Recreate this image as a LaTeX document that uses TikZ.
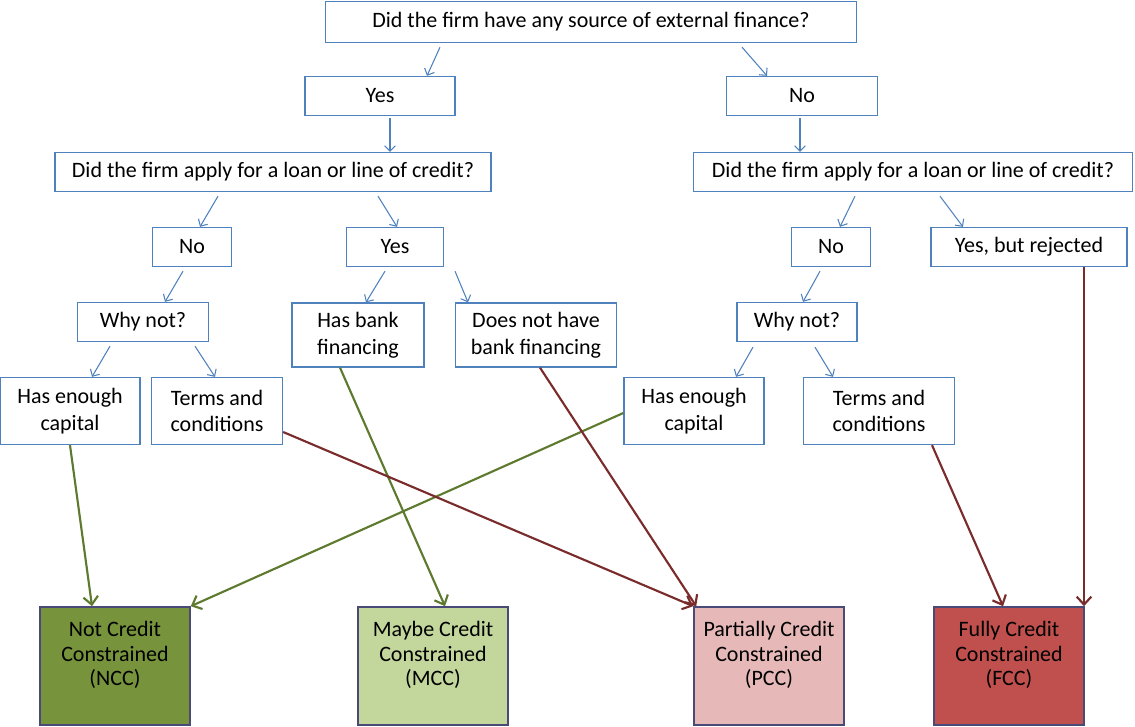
\documentclass[tikz,border=0pt]{standalone}
\usepackage{fontspec}
\setmainfont{Carlito}
\usepackage{tikz}
\usetikzlibrary{positioning, calc, arrows.meta}
\definecolor{qblue}{HTML}{4F81BD}
\definecolor{agreen}{HTML}{5E7A2E}
\definecolor{ared}{HTML}{7A2B2B}
\definecolor{rframe}{HTML}{4A4A78}
\tikzset{qbox/.style = {draw=qblue,line width=1pt,fill=white,align=center,inner sep=0pt,
                        font=\fontsize{16.5}{20}\selectfont},
         rbox/.style = {draw=rframe,line width=1.2pt,align=center,inner sep=0pt,
                        minimum width=150*0.75pt,minimum height=118*0.75pt,
                        font=\fontsize{16.5}{18.5}\selectfont},
         flow/.style = {draw=qblue,line width=0.8pt,-{Straight Barb[length=4pt,width=8pt]}},
         thick flow/.style = {line width=1.6pt,-{Straight Barb[length=6pt,width=11pt]}}}

\begin{document}
\begin{tikzpicture}[x=0.75pt,y=-0.75pt]
                    \useasboundingbox (0,0) rectangle (1135,727);

                    \node [qbox,minimum width=531*0.75pt,minimum height=41*0.75pt] (Q) at (591,22) {Did the firm have any source of external finance?};
                    \node [qbox,minimum width=150*0.75pt,minimum height=39*0.75pt] (Y) at (380,96) {Yes};
                    \node [qbox,minimum width=151*0.75pt,minimum height=39*0.75pt] (N) at (802,96) {No};
                    \node [qbox,minimum width=436*0.75pt,minimum height=39*0.75pt] (YQ) at (273,172) {Did the firm apply for a loan or line of credit?};
                    \node [qbox,minimum width=439*0.75pt,minimum height=39*0.75pt] (NQ) at (913,172) {Did the firm apply for a loan or line of credit?};
                    \node [qbox,minimum width=79*0.75pt,minimum height=39*0.75pt] (YN) at (192,247) {No};
                    \node [qbox,minimum width=97*0.75pt,minimum height=39*0.75pt] (YY) at (395,247) {Yes};
                    \node [qbox,minimum width=79*0.75pt,minimum height=39*0.75pt] (NN) at (831,247) {No};
                    \node [qbox,minimum width=196*0.75pt,minimum height=39*0.75pt] (NY) at (1029,247) {Yes, but rejected};
                    \node [qbox,minimum width=131*0.75pt,minimum height=39*0.75pt] (YNW) at (143,322) {Why not?};
                    \node [qbox,minimum width=132*0.75pt,minimum height=64*0.75pt] (YYB) at (358,335) {Has bank\\financing};
                    \node [qbox,minimum width=161*0.75pt,minimum height=64*0.75pt] (YYN) at (536,335) {Does not have\\bank financing};
                    \node [qbox,minimum width=120*0.75pt,minimum height=39*0.75pt] (NNW) at (797,322) {Why not?};
                    \node [qbox,minimum width=140*0.75pt,minimum height=67*0.75pt] (YNC) at (70,411) {Has enough\\capital};
                    \node [qbox,minimum width=131*0.75pt,minimum height=67*0.75pt] (YNT) at (217,411) {Terms and\\conditions};
                    \node [qbox,minimum width=140*0.75pt,minimum height=67*0.75pt] (NNC) at (694,411) {Has enough\\capital};
                    \node [qbox,minimum width=151*0.75pt,minimum height=67*0.75pt] (NNT) at (879,411) {Terms and\\conditions};

                    \node [rbox,fill={rgb,255:red,119;green,147;blue,60}] (NCC) at (115,666) {Not Credit\\Constrained\\(NCC)\\\mbox{}};
                    \node [rbox,fill={rgb,255:red,195;green,214;blue,155}] (MCC) at (433,666) {Maybe Credit\\Constrained\\(MCC)\\\mbox{}};
                    \node [rbox,fill={rgb,255:red,230;green,185;blue,184}] (PCC) at (769,666) {Partially Credit\\Constrained\\(PCC)\\\mbox{}};
                    \node [rbox,fill={rgb,255:red,192;green,80;blue,77}] (FCC) at (1009,666) {Fully Credit\\Constrained\\(FCC)\\\mbox{}};

                    % questions and answers
                    \draw [flow] ($(Q.south)+(-151,4)$) -- ($(Y.north)+(47,0)$);
                    \draw [flow] ($(Q.south)+(151,4)$) -- ($(N.north)+(-35,0)$);
                    \draw [flow] ($(Y.south)+(10,2)$) -- ($(YQ.north)+(117,0)$);
                    \draw [flow] ($(N.south)+(-2,2)$) -- ($(NQ.north)+(-113,0)$);
                    \draw [flow] ($(YQ.south)+(-55,4)$) -- ($(YN.north)+(8,0)$);
                    \draw [flow] ($(YQ.south)+(105,4)$) -- ($(YY.north)+(2,0)$);
                    \draw [flow] ($(NQ.south)+(-58,4)$) -- ($(NN.north)+(9,0)$);
                    \draw [flow] ($(NQ.south)+(27,4)$) -- ($(NY.north)+(-66,0)$);
                    \draw [flow] ($(YN.south)+(-9,4)$) -- ($(YNW.north)+(22,0)$);
                    \draw [flow] ($(YY.south)+(-10,4)$) -- ($(YYB.north)+(8,0)$);
                    \draw [flow] ($(YY.south)+(60,4)$) -- ($(YYN.north)+(-68,0)$);
                    \draw [flow] ($(NN.south)+(-11,4)$) -- ($(NNW.north)+(6,0)$);
                    \draw [flow] ($(YNW.south)+(-33,4)$) -- ($(YNC.north)+(22,0)$);
                    \draw [flow] ($(YNW.south)+(52,4)$) -- ($(YNT.north)+(-2,0)$);
                    \draw [flow] ($(NNW.south)+(-44,5)$) -- ($(NNC.north)+(42,0)$);
                    \draw [flow] ($(NNW.south)+(18,5)$) -- ($(NNT.north)+(-46,0)$);

                    % outcomes
                    \draw [thick flow,agreen] (YNC.south) -- ($(NCC.north)+(-23,0)$);
                    \draw [thick flow,agreen] ($(NNC.west)+(0,2)$) -- (NCC.north east);
                    \draw [thick flow,agreen] ($(YYB.south)+(-18,0)$) -- ($(MCC.north)+(12,0)$);
                    \draw [thick flow,ared] ($(YNT.east)+(0,21)$) -- (PCC.north west);
                    \draw [thick flow,ared] ($(YYN.south)+(4,0)$) -- ($(PCC.north west)+(3,0)$);
                    \draw [thick flow,ared] ($(NNT.south)+(53,0)$) -- ($(FCC.north)+(-6,0)$);
                    \draw [thick flow,ared] ($(NY.south)+(55,0)$) -- ($(FCC.north)+(75,0)$);
                \end{tikzpicture}
\end{document}
